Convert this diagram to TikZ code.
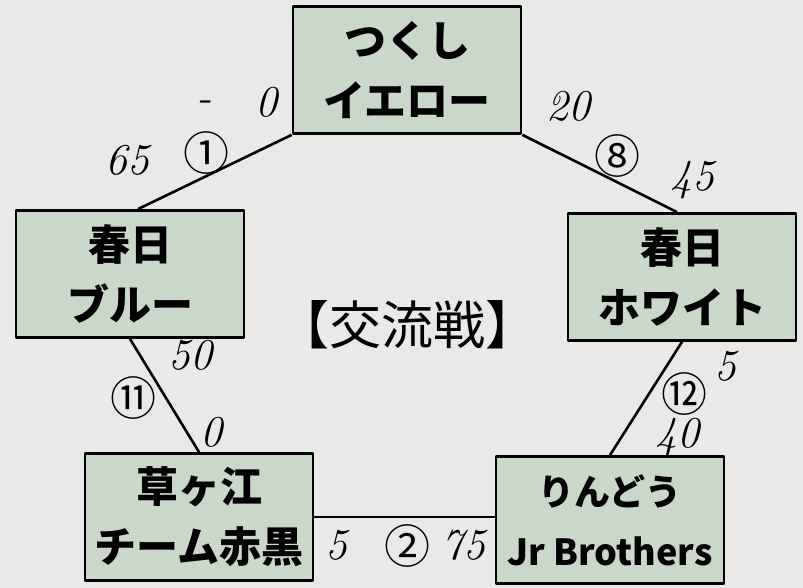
\documentclass[tikz,border=0pt]{standalone}
\usepackage{fontspec}
\newfontfamily\cjk{Noto Sans CJK JP}
\usepackage{tikz}

\definecolor{paper}{RGB}{233,234,232}
\definecolor{sage}{RGB}{202,216,201}

\begin{document}
\begin{tikzpicture}[
  x=1pt, y=-1pt,
  line join=round,
  team/.style={
    draw=black,
    fill=sage,
    line width=2.8pt,
    minimum width=228pt,
    minimum height=127pt,
    align=center,
    font=\cjk\bfseries\fontsize{42}{60}\selectfont,
  },
  link/.style={
    line width=2.6pt,
  },
  score/.style={
    inner sep=0pt,
    font=\itshape\fontsize{44}{44}\selectfont,
  },
  round no/.style={
    inner sep=0pt,
    font=\cjk\fontsize{46}{46}\selectfont,
  }
]

\fill[paper] (0,0) rectangle (803,588);

\node[team] (yellow) at (407,70) {つくし\\イエロー};
\node[team] (blue) at (130,274) {春日\\ブルー};
\node[team] (white) at (682,277) {春日\\ホワイト};
\node[team] (red) at (199,517) {草ヶ江\\チーム赤黒};
\node[team, font=\cjk\bfseries\fontsize{36}{60}\selectfont] (rindo) at (610,520) {りんどう\\Jr Brothers};

\draw[link] (yellow.south west) -- ([xshift=8pt]blue.north);
\draw[link] (yellow.south east) -- ([xshift=-5pt]white.north);
\draw[link] (blue.south) -- (red.north);
\draw[link] (white.south) -- (rindo.north);
\draw[link] (red.east) -- (red.east -| rindo.west);

\node[score] (s1a) at (127,160) {65};
\node[score] (s1d) at (204,106) {-};
\node[round no] (r1) at (206,153) {①};
\node[score] (s1b) at (266,102) {0};

\node[score] (s8a) at (568,106) {20};
\node[round no] (r8) at (617,156) {⑧};
\node[score] (s8b) at (692,180) {45};

\node[score] (s11a) at (190,355) {50};
\node[round no] (r11) at (133,398) {⑪};
\node[score] (s11b) at (211,432) {0};

\node[score] (s12a) at (725,366) {5};
\node[round no] (r12) at (684,394) {⑫};
\node[score] (s12b) at (677,437) {40};

\node[score] (s2a) at (336,545) {5};
\node[round no] (r2) at (407,546) {②};
\node[score] (s2b) at (463,545) {75};

\node[font=\cjk\fontsize{52}{52}\selectfont] (title) at (407,325) {【交流戦】};

\end{tikzpicture}
\end{document}
